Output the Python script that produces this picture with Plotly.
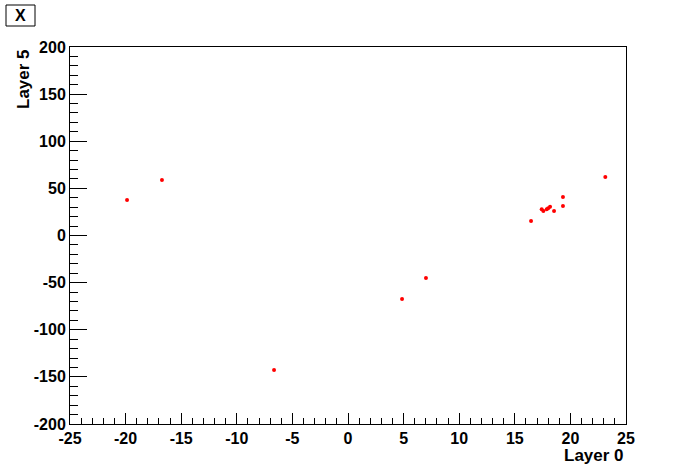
import plotly.graph_objects as go

layer0 = [-19.87, -16.73, -6.65, 4.86, 7.01, 16.46, 17.42, 17.57, 17.87, 18.0, 18.17, 18.53, 19.33, 19.33, 23.14]
layer5 = [37.7, 58.9, -142.7, -67.4, -45.1, 15.4, 27.8, 26.0, 27.8, 28.9, 30.6, 26.0, 40.8, 31.3, 62.1]

x_ticks = [-25, -20, -15, -10, -5, 0, 5, 10, 15, 20, 25]
y_ticks = [-200, -150, -100, -50, 0, 50, 100, 150, 200]

W, H = 696, 472
L, R, T, B = 70, 70, 47, 48
pw, ph = W - L - R, H - T - B

def px(xp):
    return (xp - L) / pw

def py(yp):
    return (H - B - yp) / ph

tickfont = dict(family="Liberation Sans, Arial, sans-serif", size=16, color="black", weight="bold")
titlefont = dict(family="Liberation Sans, Arial, sans-serif", size=17, color="black", weight="bold")

fig = go.Figure(go.Scatter(
    x=layer0, y=layer5, mode="markers",
    marker=dict(color="#ff0000", size=4, symbol="circle"),
    hoverinfo="x+y",
))

axis_common = dict(
    showgrid=False, zeroline=False, showline=True, linecolor="black", linewidth=1,
    mirror=True, ticks="inside", tickcolor="black", tickwidth=1,
    tickfont=tickfont, automargin=False, tickmode="array",
)

fig.update_xaxes(range=[-25, 25], tickvals=x_ticks, ticktext=[str(v) for v in x_ticks], ticklen=11,
                 minor=dict(dtick=1, tick0=-25, ticklen=6, ticks="inside", tickcolor="black", showgrid=False),
                 **axis_common)
fig.update_yaxes(range=[-200, 200], tickvals=y_ticks, ticktext=[str(v) for v in y_ticks], ticklen=17,
                 minor=dict(dtick=10, tick0=-200, ticklen=8, ticks="inside", tickcolor="black", showgrid=False),
                 **axis_common)

fig.update_layout(
    width=W, height=H, margin=dict(l=L, r=R, t=T, b=B, pad=0, autoexpand=False),
    paper_bgcolor="white", plot_bgcolor="white", showlegend=False,
    shapes=[dict(type="rect", xref="paper", yref="paper",
                 x0=px(6), x1=px(35), y0=py(26), y1=py(5),
                 line=dict(color="black", width=1), fillcolor="white")],
    annotations=[
        dict(text="X", xref="paper", yref="paper", x=px(20.5), y=py(15.5),
             xanchor="center", yanchor="middle", showarrow=False, font=dict(titlefont, size=16)),
        dict(text="Layer 0", xref="paper", yref="paper", x=1.0, y=py(455),
             xanchor="right", yanchor="middle", showarrow=False, font=titlefont),
        dict(text="Layer 5", xref="paper", yref="paper", x=px(23), y=1.0,
             xanchor="center", yanchor="top", textangle=-90, showarrow=False, font=titlefont),
    ],
)

fig.write_html("out.html", config={"displayModeBar": False},
               post_script="document.body.style.margin='0';document.body.style.overflow='hidden';")
